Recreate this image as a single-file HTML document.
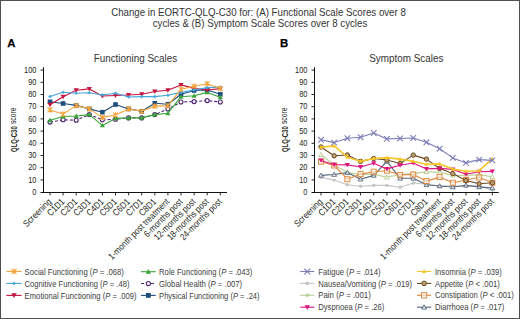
<!DOCTYPE html><html><head><meta charset="utf-8"><style>html,body{margin:0;padding:0;background:#fff}svg{display:block}</style></head><body>
<svg width="520" height="319" viewBox="0 0 520 319" font-family='"Liberation Sans", sans-serif'>
<rect x="0" y="0" width="520" height="319" fill="#fff"/>
<rect x="0.5" y="0.5" width="519" height="318" fill="none" stroke="#505050" stroke-width="1"/>
<text transform="translate(258.50,15.70) scale(0.918,1)" font-size="10.58" text-anchor="middle" fill="#333">Change in EORTC-QLQ-C30 for: (A) Functional Scale Scores over 8</text>
<text transform="translate(260.00,27.40) scale(0.918,1)" font-size="10.58" text-anchor="middle" fill="#333">cycles &amp; (B) Symptom Scale Scores over 8 cycles</text>
<text x="7.2" y="47.0" font-size="11.4" font-weight="bold" fill="#000" stroke="#000" stroke-width="0.25">A</text>
<text x="280.0" y="47.0" font-size="11.4" font-weight="bold" fill="#000" stroke="#000" stroke-width="0.25">B</text>
<text transform="translate(135.40,62.30) scale(0.925,1)" font-size="10.70" text-anchor="middle" fill="#333">Functioning Scales</text>
<text transform="translate(406.30,62.30) scale(0.925,1)" font-size="10.70" text-anchor="middle" fill="#333">Symptom Scales</text>
<text transform="translate(16.60,151.90) rotate(-90) scale(0.68,1)" font-size="8.70" text-anchor="start" fill="#231f20" font-weight="bold">QLQ-C30</text>
<text transform="translate(16.30,124.10) rotate(-90) scale(0.79,1)" font-size="8.60" text-anchor="start" fill="#231f20">score</text>
<text transform="translate(287.60,151.90) rotate(-90) scale(0.68,1)" font-size="8.70" text-anchor="start" fill="#231f20" font-weight="bold">QLQ-C30</text>
<text transform="translate(287.30,124.10) rotate(-90) scale(0.79,1)" font-size="8.60" text-anchor="start" fill="#231f20">score</text>
<path d="M43.5,67.3V193M40.5,192.5H227" stroke="#111" stroke-width="1" fill="none"/>
<line x1="40.5" y1="179.90" x2="43.5" y2="179.90" stroke="#111" stroke-width="0.9"/>
<line x1="40.5" y1="167.70" x2="43.5" y2="167.70" stroke="#111" stroke-width="0.9"/>
<line x1="40.5" y1="155.50" x2="43.5" y2="155.50" stroke="#111" stroke-width="0.9"/>
<line x1="40.5" y1="143.30" x2="43.5" y2="143.30" stroke="#111" stroke-width="0.9"/>
<line x1="40.5" y1="131.10" x2="43.5" y2="131.10" stroke="#111" stroke-width="0.9"/>
<line x1="40.5" y1="118.90" x2="43.5" y2="118.90" stroke="#111" stroke-width="0.9"/>
<line x1="40.5" y1="106.70" x2="43.5" y2="106.70" stroke="#111" stroke-width="0.9"/>
<line x1="40.5" y1="94.50" x2="43.5" y2="94.50" stroke="#111" stroke-width="0.9"/>
<line x1="40.5" y1="82.30" x2="43.5" y2="82.30" stroke="#111" stroke-width="0.9"/>
<line x1="40.5" y1="70.10" x2="43.5" y2="70.10" stroke="#111" stroke-width="0.9"/>
<text transform="translate(36.50,194.80) scale(0.85,1)" font-size="8.74" text-anchor="end" fill="#231f20">0</text>
<text transform="translate(36.50,182.60) scale(0.85,1)" font-size="8.74" text-anchor="end" fill="#231f20">10</text>
<text transform="translate(36.50,170.40) scale(0.85,1)" font-size="8.74" text-anchor="end" fill="#231f20">20</text>
<text transform="translate(36.50,158.20) scale(0.85,1)" font-size="8.74" text-anchor="end" fill="#231f20">30</text>
<text transform="translate(36.50,146.00) scale(0.85,1)" font-size="8.74" text-anchor="end" fill="#231f20">40</text>
<text transform="translate(36.50,133.80) scale(0.85,1)" font-size="8.74" text-anchor="end" fill="#231f20">50</text>
<text transform="translate(36.50,121.60) scale(0.85,1)" font-size="8.74" text-anchor="end" fill="#231f20">60</text>
<text transform="translate(36.50,109.40) scale(0.85,1)" font-size="8.74" text-anchor="end" fill="#231f20">70</text>
<text transform="translate(36.50,97.20) scale(0.85,1)" font-size="8.74" text-anchor="end" fill="#231f20">80</text>
<text transform="translate(36.50,85.00) scale(0.85,1)" font-size="8.74" text-anchor="end" fill="#231f20">90</text>
<text transform="translate(36.50,72.80) scale(0.85,1)" font-size="8.74" text-anchor="end" fill="#231f20">100</text>
<line x1="50.00" y1="192.6" x2="50.00" y2="195.4" stroke="#111" stroke-width="0.9"/>
<text transform="translate(52.00,202.30) rotate(-45) scale(0.86,1)" font-size="9.20" text-anchor="end" fill="#231f20">Screening</text>
<line x1="63.10" y1="192.6" x2="63.10" y2="195.4" stroke="#111" stroke-width="0.9"/>
<text transform="translate(65.10,202.30) rotate(-45) scale(0.86,1)" font-size="9.20" text-anchor="end" fill="#231f20">C1D1</text>
<line x1="76.20" y1="192.6" x2="76.20" y2="195.4" stroke="#111" stroke-width="0.9"/>
<text transform="translate(78.20,202.30) rotate(-45) scale(0.86,1)" font-size="9.20" text-anchor="end" fill="#231f20">C2D1</text>
<line x1="89.30" y1="192.6" x2="89.30" y2="195.4" stroke="#111" stroke-width="0.9"/>
<text transform="translate(91.30,202.30) rotate(-45) scale(0.86,1)" font-size="9.20" text-anchor="end" fill="#231f20">C3D1</text>
<line x1="102.40" y1="192.6" x2="102.40" y2="195.4" stroke="#111" stroke-width="0.9"/>
<text transform="translate(104.40,202.30) rotate(-45) scale(0.86,1)" font-size="9.20" text-anchor="end" fill="#231f20">C4D1</text>
<line x1="115.50" y1="192.6" x2="115.50" y2="195.4" stroke="#111" stroke-width="0.9"/>
<text transform="translate(117.50,202.30) rotate(-45) scale(0.86,1)" font-size="9.20" text-anchor="end" fill="#231f20">C5D1</text>
<line x1="128.60" y1="192.6" x2="128.60" y2="195.4" stroke="#111" stroke-width="0.9"/>
<text transform="translate(130.60,202.30) rotate(-45) scale(0.86,1)" font-size="9.20" text-anchor="end" fill="#231f20">C6D1</text>
<line x1="141.70" y1="192.6" x2="141.70" y2="195.4" stroke="#111" stroke-width="0.9"/>
<text transform="translate(143.70,202.30) rotate(-45) scale(0.86,1)" font-size="9.20" text-anchor="end" fill="#231f20">C7D1</text>
<line x1="154.80" y1="192.6" x2="154.80" y2="195.4" stroke="#111" stroke-width="0.9"/>
<text transform="translate(156.80,202.30) rotate(-45) scale(0.86,1)" font-size="9.20" text-anchor="end" fill="#231f20">C8D1</text>
<line x1="167.90" y1="192.6" x2="167.90" y2="195.4" stroke="#111" stroke-width="0.9"/>
<text transform="translate(169.90,202.30) rotate(-45) scale(0.86,1)" font-size="9.20" text-anchor="end" fill="#231f20">1-month post treatment</text>
<line x1="181.00" y1="192.6" x2="181.00" y2="195.4" stroke="#111" stroke-width="0.9"/>
<text transform="translate(183.00,202.30) rotate(-45) scale(0.86,1)" font-size="9.20" text-anchor="end" fill="#231f20">6-months post</text>
<line x1="194.10" y1="192.6" x2="194.10" y2="195.4" stroke="#111" stroke-width="0.9"/>
<text transform="translate(196.10,202.30) rotate(-45) scale(0.86,1)" font-size="9.20" text-anchor="end" fill="#231f20">12-months post</text>
<line x1="207.20" y1="192.6" x2="207.20" y2="195.4" stroke="#111" stroke-width="0.9"/>
<text transform="translate(209.20,202.30) rotate(-45) scale(0.86,1)" font-size="9.20" text-anchor="end" fill="#231f20">18-months post</text>
<line x1="220.30" y1="192.6" x2="220.30" y2="195.4" stroke="#111" stroke-width="0.9"/>
<text transform="translate(222.30,202.30) rotate(-45) scale(0.86,1)" font-size="9.20" text-anchor="end" fill="#231f20">24-months post</text>
<path d="M314.5,67.3V193M311.5,192.5H498.8" stroke="#111" stroke-width="1" fill="none"/>
<line x1="311.5" y1="179.90" x2="314.5" y2="179.90" stroke="#111" stroke-width="0.9"/>
<line x1="311.5" y1="167.70" x2="314.5" y2="167.70" stroke="#111" stroke-width="0.9"/>
<line x1="311.5" y1="155.50" x2="314.5" y2="155.50" stroke="#111" stroke-width="0.9"/>
<line x1="311.5" y1="143.30" x2="314.5" y2="143.30" stroke="#111" stroke-width="0.9"/>
<line x1="311.5" y1="131.10" x2="314.5" y2="131.10" stroke="#111" stroke-width="0.9"/>
<line x1="311.5" y1="118.90" x2="314.5" y2="118.90" stroke="#111" stroke-width="0.9"/>
<line x1="311.5" y1="106.70" x2="314.5" y2="106.70" stroke="#111" stroke-width="0.9"/>
<line x1="311.5" y1="94.50" x2="314.5" y2="94.50" stroke="#111" stroke-width="0.9"/>
<line x1="311.5" y1="82.30" x2="314.5" y2="82.30" stroke="#111" stroke-width="0.9"/>
<line x1="311.5" y1="70.10" x2="314.5" y2="70.10" stroke="#111" stroke-width="0.9"/>
<text transform="translate(307.50,194.80) scale(0.85,1)" font-size="8.74" text-anchor="end" fill="#231f20">0</text>
<text transform="translate(307.50,182.60) scale(0.85,1)" font-size="8.74" text-anchor="end" fill="#231f20">10</text>
<text transform="translate(307.50,170.40) scale(0.85,1)" font-size="8.74" text-anchor="end" fill="#231f20">20</text>
<text transform="translate(307.50,158.20) scale(0.85,1)" font-size="8.74" text-anchor="end" fill="#231f20">30</text>
<text transform="translate(307.50,146.00) scale(0.85,1)" font-size="8.74" text-anchor="end" fill="#231f20">40</text>
<text transform="translate(307.50,133.80) scale(0.85,1)" font-size="8.74" text-anchor="end" fill="#231f20">50</text>
<text transform="translate(307.50,121.60) scale(0.85,1)" font-size="8.74" text-anchor="end" fill="#231f20">60</text>
<text transform="translate(307.50,109.40) scale(0.85,1)" font-size="8.74" text-anchor="end" fill="#231f20">70</text>
<text transform="translate(307.50,97.20) scale(0.85,1)" font-size="8.74" text-anchor="end" fill="#231f20">80</text>
<text transform="translate(307.50,85.00) scale(0.85,1)" font-size="8.74" text-anchor="end" fill="#231f20">90</text>
<text transform="translate(307.50,72.80) scale(0.85,1)" font-size="8.74" text-anchor="end" fill="#231f20">100</text>
<line x1="321.00" y1="192.6" x2="321.00" y2="195.4" stroke="#111" stroke-width="0.9"/>
<text transform="translate(323.00,202.30) rotate(-45) scale(0.86,1)" font-size="9.20" text-anchor="end" fill="#231f20">Screening</text>
<line x1="334.18" y1="192.6" x2="334.18" y2="195.4" stroke="#111" stroke-width="0.9"/>
<text transform="translate(336.18,202.30) rotate(-45) scale(0.86,1)" font-size="9.20" text-anchor="end" fill="#231f20">C1D1</text>
<line x1="347.36" y1="192.6" x2="347.36" y2="195.4" stroke="#111" stroke-width="0.9"/>
<text transform="translate(349.36,202.30) rotate(-45) scale(0.86,1)" font-size="9.20" text-anchor="end" fill="#231f20">C2D1</text>
<line x1="360.54" y1="192.6" x2="360.54" y2="195.4" stroke="#111" stroke-width="0.9"/>
<text transform="translate(362.54,202.30) rotate(-45) scale(0.86,1)" font-size="9.20" text-anchor="end" fill="#231f20">C3D1</text>
<line x1="373.72" y1="192.6" x2="373.72" y2="195.4" stroke="#111" stroke-width="0.9"/>
<text transform="translate(375.72,202.30) rotate(-45) scale(0.86,1)" font-size="9.20" text-anchor="end" fill="#231f20">C4D1</text>
<line x1="386.90" y1="192.6" x2="386.90" y2="195.4" stroke="#111" stroke-width="0.9"/>
<text transform="translate(388.90,202.30) rotate(-45) scale(0.86,1)" font-size="9.20" text-anchor="end" fill="#231f20">C5D1</text>
<line x1="400.08" y1="192.6" x2="400.08" y2="195.4" stroke="#111" stroke-width="0.9"/>
<text transform="translate(402.08,202.30) rotate(-45) scale(0.86,1)" font-size="9.20" text-anchor="end" fill="#231f20">C6D1</text>
<line x1="413.26" y1="192.6" x2="413.26" y2="195.4" stroke="#111" stroke-width="0.9"/>
<text transform="translate(415.26,202.30) rotate(-45) scale(0.86,1)" font-size="9.20" text-anchor="end" fill="#231f20">C7D1</text>
<line x1="426.44" y1="192.6" x2="426.44" y2="195.4" stroke="#111" stroke-width="0.9"/>
<text transform="translate(428.44,202.30) rotate(-45) scale(0.86,1)" font-size="9.20" text-anchor="end" fill="#231f20">C8D1</text>
<line x1="439.62" y1="192.6" x2="439.62" y2="195.4" stroke="#111" stroke-width="0.9"/>
<text transform="translate(441.62,202.30) rotate(-45) scale(0.86,1)" font-size="9.20" text-anchor="end" fill="#231f20">1-month post treatment</text>
<line x1="452.80" y1="192.6" x2="452.80" y2="195.4" stroke="#111" stroke-width="0.9"/>
<text transform="translate(454.80,202.30) rotate(-45) scale(0.86,1)" font-size="9.20" text-anchor="end" fill="#231f20">6-months post</text>
<line x1="465.98" y1="192.6" x2="465.98" y2="195.4" stroke="#111" stroke-width="0.9"/>
<text transform="translate(467.98,202.30) rotate(-45) scale(0.86,1)" font-size="9.20" text-anchor="end" fill="#231f20">12-months post</text>
<line x1="479.16" y1="192.6" x2="479.16" y2="195.4" stroke="#111" stroke-width="0.9"/>
<text transform="translate(481.16,202.30) rotate(-45) scale(0.86,1)" font-size="9.20" text-anchor="end" fill="#231f20">18-months post</text>
<line x1="492.34" y1="192.6" x2="492.34" y2="195.4" stroke="#111" stroke-width="0.9"/>
<text transform="translate(494.34,202.30) rotate(-45) scale(0.86,1)" font-size="9.20" text-anchor="end" fill="#231f20">24-months post</text>
<path d="M50.00,122.10L63.10,119.80L76.20,120.20L89.30,114.60L102.40,119.80L115.50,119.30L128.60,117.90L141.70,117.90L154.80,114.60L167.90,109.00L181.00,102.00L194.10,101.60L207.20,100.60L220.30,102.00" fill="none" stroke="#4e2474" stroke-width="1.1" stroke-linejoin="round" stroke-dasharray="3,2"/>
<circle cx="50.00" cy="122.10" r="2.00" fill="#fff" stroke="#4e2474" stroke-width="1.1"/>
<circle cx="63.10" cy="119.80" r="2.00" fill="#fff" stroke="#4e2474" stroke-width="1.1"/>
<circle cx="76.20" cy="120.20" r="2.00" fill="#fff" stroke="#4e2474" stroke-width="1.1"/>
<circle cx="89.30" cy="114.60" r="2.00" fill="#fff" stroke="#4e2474" stroke-width="1.1"/>
<circle cx="102.40" cy="119.80" r="2.00" fill="#fff" stroke="#4e2474" stroke-width="1.1"/>
<circle cx="115.50" cy="119.30" r="2.00" fill="#fff" stroke="#4e2474" stroke-width="1.1"/>
<circle cx="128.60" cy="117.90" r="2.00" fill="#fff" stroke="#4e2474" stroke-width="1.1"/>
<circle cx="141.70" cy="117.90" r="2.00" fill="#fff" stroke="#4e2474" stroke-width="1.1"/>
<circle cx="154.80" cy="114.60" r="2.00" fill="#fff" stroke="#4e2474" stroke-width="1.1"/>
<circle cx="167.90" cy="109.00" r="2.00" fill="#fff" stroke="#4e2474" stroke-width="1.1"/>
<circle cx="181.00" cy="102.00" r="2.00" fill="#fff" stroke="#4e2474" stroke-width="1.1"/>
<circle cx="194.10" cy="101.60" r="2.00" fill="#fff" stroke="#4e2474" stroke-width="1.1"/>
<circle cx="207.20" cy="100.60" r="2.00" fill="#fff" stroke="#4e2474" stroke-width="1.1"/>
<circle cx="220.30" cy="102.00" r="2.00" fill="#fff" stroke="#4e2474" stroke-width="1.1"/>
<path d="M50.00,101.80L63.10,103.50L76.20,105.40L89.30,108.90L102.40,112.20L115.50,104.50L128.60,108.90L141.70,111.30L154.80,103.30L167.90,104.20L181.00,94.30L194.10,90.50L207.20,90.00L220.30,94.30" fill="none" stroke="#1d4e7e" stroke-width="1.1" stroke-linejoin="round"/>
<rect x="47.70" y="99.50" width="4.60" height="4.60" fill="#1d4e7e"/>
<rect x="60.80" y="101.20" width="4.60" height="4.60" fill="#1d4e7e"/>
<rect x="73.90" y="103.10" width="4.60" height="4.60" fill="#1d4e7e"/>
<rect x="87.00" y="106.60" width="4.60" height="4.60" fill="#1d4e7e"/>
<rect x="100.10" y="109.90" width="4.60" height="4.60" fill="#1d4e7e"/>
<rect x="113.20" y="102.20" width="4.60" height="4.60" fill="#1d4e7e"/>
<rect x="126.30" y="106.60" width="4.60" height="4.60" fill="#1d4e7e"/>
<rect x="139.40" y="109.00" width="4.60" height="4.60" fill="#1d4e7e"/>
<rect x="152.50" y="101.00" width="4.60" height="4.60" fill="#1d4e7e"/>
<rect x="165.60" y="101.90" width="4.60" height="4.60" fill="#1d4e7e"/>
<rect x="178.70" y="92.00" width="4.60" height="4.60" fill="#1d4e7e"/>
<rect x="191.80" y="88.20" width="4.60" height="4.60" fill="#1d4e7e"/>
<rect x="204.90" y="87.70" width="4.60" height="4.60" fill="#1d4e7e"/>
<rect x="218.00" y="92.00" width="4.60" height="4.60" fill="#1d4e7e"/>
<path d="M50.00,120.20L63.10,116.50L76.20,116.00L89.30,114.60L102.40,125.40L115.50,118.40L128.60,117.90L141.70,117.90L154.80,114.60L167.90,113.20L181.00,96.80L194.10,95.80L207.20,92.40L220.30,97.20" fill="none" stroke="#3aa43a" stroke-width="1.1" stroke-linejoin="round"/>
<path d="M47.40,122.15L52.60,122.15L50.00,117.73Z" fill="#3aa43a"/>
<path d="M60.50,118.45L65.70,118.45L63.10,114.03Z" fill="#3aa43a"/>
<path d="M73.60,117.95L78.80,117.95L76.20,113.53Z" fill="#3aa43a"/>
<path d="M86.70,116.55L91.90,116.55L89.30,112.13Z" fill="#3aa43a"/>
<path d="M99.80,127.35L105.00,127.35L102.40,122.93Z" fill="#3aa43a"/>
<path d="M112.90,120.35L118.10,120.35L115.50,115.93Z" fill="#3aa43a"/>
<path d="M126.00,119.85L131.20,119.85L128.60,115.43Z" fill="#3aa43a"/>
<path d="M139.10,119.85L144.30,119.85L141.70,115.43Z" fill="#3aa43a"/>
<path d="M152.20,116.55L157.40,116.55L154.80,112.13Z" fill="#3aa43a"/>
<path d="M165.30,115.15L170.50,115.15L167.90,110.73Z" fill="#3aa43a"/>
<path d="M178.40,98.75L183.60,98.75L181.00,94.33Z" fill="#3aa43a"/>
<path d="M191.50,97.75L196.70,97.75L194.10,93.33Z" fill="#3aa43a"/>
<path d="M204.60,94.35L209.80,94.35L207.20,89.93Z" fill="#3aa43a"/>
<path d="M217.70,99.15L222.90,99.15L220.30,94.73Z" fill="#3aa43a"/>
<path d="M50.00,104.70L63.10,96.80L76.20,90.20L89.30,88.90L102.40,96.00L115.50,95.50L128.60,95.00L141.70,94.30L154.80,91.50L167.90,90.20L181.00,84.90L194.10,88.40L207.20,90.00L220.30,88.60" fill="none" stroke="#c4153f" stroke-width="1.1" stroke-linejoin="round"/>
<path d="M47.40,102.75L52.60,102.75L50.00,107.17Z" fill="#c4153f"/>
<path d="M60.50,94.85L65.70,94.85L63.10,99.27Z" fill="#c4153f"/>
<path d="M73.60,88.25L78.80,88.25L76.20,92.67Z" fill="#c4153f"/>
<path d="M86.70,86.95L91.90,86.95L89.30,91.37Z" fill="#c4153f"/>
<path d="M99.80,94.05L105.00,94.05L102.40,98.47Z" fill="#c4153f"/>
<path d="M112.90,93.55L118.10,93.55L115.50,97.97Z" fill="#c4153f"/>
<path d="M126.00,93.05L131.20,93.05L128.60,97.47Z" fill="#c4153f"/>
<path d="M139.10,92.35L144.30,92.35L141.70,96.77Z" fill="#c4153f"/>
<path d="M152.20,89.55L157.40,89.55L154.80,93.97Z" fill="#c4153f"/>
<path d="M165.30,88.25L170.50,88.25L167.90,92.67Z" fill="#c4153f"/>
<path d="M178.40,82.95L183.60,82.95L181.00,87.37Z" fill="#c4153f"/>
<path d="M191.50,86.45L196.70,86.45L194.10,90.87Z" fill="#c4153f"/>
<path d="M204.60,88.05L209.80,88.05L207.20,92.47Z" fill="#c4153f"/>
<path d="M217.70,86.65L222.90,86.65L220.30,91.07Z" fill="#c4153f"/>
<path d="M50.00,96.50L63.10,92.20L76.20,93.20L89.30,92.70L102.40,95.00L115.50,93.20L128.60,97.00L141.70,96.60L154.80,96.60L167.90,95.20L181.00,92.40L194.10,90.00L207.20,87.60L220.30,87.10" fill="none" stroke="#45a7dc" stroke-width="1.1" stroke-linejoin="round"/>
<path d="M50.00,94.70L51.80,96.50L50.00,98.30L48.20,96.50Z" fill="#45a7dc"/>
<path d="M63.10,90.40L64.90,92.20L63.10,94.00L61.30,92.20Z" fill="#45a7dc"/>
<path d="M76.20,91.40L78.00,93.20L76.20,95.00L74.40,93.20Z" fill="#45a7dc"/>
<path d="M89.30,90.90L91.10,92.70L89.30,94.50L87.50,92.70Z" fill="#45a7dc"/>
<path d="M102.40,93.20L104.20,95.00L102.40,96.80L100.60,95.00Z" fill="#45a7dc"/>
<path d="M115.50,91.40L117.30,93.20L115.50,95.00L113.70,93.20Z" fill="#45a7dc"/>
<path d="M128.60,95.20L130.40,97.00L128.60,98.80L126.80,97.00Z" fill="#45a7dc"/>
<path d="M141.70,94.80L143.50,96.60L141.70,98.40L139.90,96.60Z" fill="#45a7dc"/>
<path d="M154.80,94.80L156.60,96.60L154.80,98.40L153.00,96.60Z" fill="#45a7dc"/>
<path d="M167.90,93.40L169.70,95.20L167.90,97.00L166.10,95.20Z" fill="#45a7dc"/>
<path d="M181.00,90.60L182.80,92.40L181.00,94.20L179.20,92.40Z" fill="#45a7dc"/>
<path d="M194.10,88.20L195.90,90.00L194.10,91.80L192.30,90.00Z" fill="#45a7dc"/>
<path d="M207.20,85.80L209.00,87.60L207.20,89.40L205.40,87.60Z" fill="#45a7dc"/>
<path d="M220.30,85.30L222.10,87.10L220.30,88.90L218.50,87.10Z" fill="#45a7dc"/>
<path d="M50.00,109.90L63.10,114.10L76.20,105.60L89.30,108.90L102.40,117.40L115.50,115.00L128.60,108.90L141.70,111.30L154.80,106.10L167.90,105.60L181.00,89.30L194.10,86.20L207.20,83.80L220.30,88.60" fill="none" stroke="#f4a43a" stroke-width="1.1" stroke-linejoin="round"/>
<path d="M47.60,107.50L52.40,112.30M47.60,112.30L52.40,107.50M50.00,107.26L50.00,112.54" stroke="#f4a43a" stroke-width="1.1" fill="none"/>
<path d="M60.70,111.70L65.50,116.50M60.70,116.50L65.50,111.70M63.10,111.46L63.10,116.74" stroke="#f4a43a" stroke-width="1.1" fill="none"/>
<path d="M73.80,103.20L78.60,108.00M73.80,108.00L78.60,103.20M76.20,102.96L76.20,108.24" stroke="#f4a43a" stroke-width="1.1" fill="none"/>
<path d="M86.90,106.50L91.70,111.30M86.90,111.30L91.70,106.50M89.30,106.26L89.30,111.54" stroke="#f4a43a" stroke-width="1.1" fill="none"/>
<path d="M100.00,115.00L104.80,119.80M100.00,119.80L104.80,115.00M102.40,114.76L102.40,120.04" stroke="#f4a43a" stroke-width="1.1" fill="none"/>
<path d="M113.10,112.60L117.90,117.40M113.10,117.40L117.90,112.60M115.50,112.36L115.50,117.64" stroke="#f4a43a" stroke-width="1.1" fill="none"/>
<path d="M126.20,106.50L131.00,111.30M126.20,111.30L131.00,106.50M128.60,106.26L128.60,111.54" stroke="#f4a43a" stroke-width="1.1" fill="none"/>
<path d="M139.30,108.90L144.10,113.70M139.30,113.70L144.10,108.90M141.70,108.66L141.70,113.94" stroke="#f4a43a" stroke-width="1.1" fill="none"/>
<path d="M152.40,103.70L157.20,108.50M152.40,108.50L157.20,103.70M154.80,103.46L154.80,108.74" stroke="#f4a43a" stroke-width="1.1" fill="none"/>
<path d="M165.50,103.20L170.30,108.00M165.50,108.00L170.30,103.20M167.90,102.96L167.90,108.24" stroke="#f4a43a" stroke-width="1.1" fill="none"/>
<path d="M178.60,86.90L183.40,91.70M178.60,91.70L183.40,86.90M181.00,86.66L181.00,91.94" stroke="#f4a43a" stroke-width="1.1" fill="none"/>
<path d="M191.70,83.80L196.50,88.60M191.70,88.60L196.50,83.80M194.10,83.56L194.10,88.84" stroke="#f4a43a" stroke-width="1.1" fill="none"/>
<path d="M204.80,81.40L209.60,86.20M204.80,86.20L209.60,81.40M207.20,81.16L207.20,86.44" stroke="#f4a43a" stroke-width="1.1" fill="none"/>
<path d="M217.90,86.20L222.70,91.00M217.90,91.00L222.70,86.20M220.30,85.96L220.30,91.24" stroke="#f4a43a" stroke-width="1.1" fill="none"/>
<path d="M321.00,177.30L334.18,180.10L347.36,184.80L360.54,186.20L373.72,185.40L386.90,185.40L400.08,187.30L413.26,183.00L426.44,184.30L439.62,186.00L452.80,186.00L465.98,186.60L479.16,186.00L492.34,190.00" fill="none" stroke="#c4c4c4" stroke-width="1.1" stroke-linejoin="round"/>
<circle cx="321.00" cy="177.30" r="1.70" fill="#c4c4c4"/>
<circle cx="334.18" cy="180.10" r="1.70" fill="#c4c4c4"/>
<circle cx="347.36" cy="184.80" r="1.70" fill="#c4c4c4"/>
<circle cx="360.54" cy="186.20" r="1.70" fill="#c4c4c4"/>
<circle cx="373.72" cy="185.40" r="1.70" fill="#c4c4c4"/>
<circle cx="386.90" cy="185.40" r="1.70" fill="#c4c4c4"/>
<circle cx="400.08" cy="187.30" r="1.70" fill="#c4c4c4"/>
<circle cx="413.26" cy="183.00" r="1.70" fill="#c4c4c4"/>
<circle cx="426.44" cy="184.30" r="1.70" fill="#c4c4c4"/>
<circle cx="439.62" cy="186.00" r="1.70" fill="#c4c4c4"/>
<circle cx="452.80" cy="186.00" r="1.70" fill="#c4c4c4"/>
<circle cx="465.98" cy="186.60" r="1.70" fill="#c4c4c4"/>
<circle cx="479.16" cy="186.00" r="1.70" fill="#c4c4c4"/>
<circle cx="492.34" cy="190.00" r="1.70" fill="#c4c4c4"/>
<path d="M321.00,154.70L334.18,165.00L347.36,172.40L360.54,174.60L373.72,174.10L386.90,177.30L400.08,174.50L413.26,173.60L426.44,171.70L439.62,172.40L452.80,175.20L465.98,175.50L479.16,174.60L492.34,176.80" fill="none" stroke="#b9cf92" stroke-width="1.1" stroke-linejoin="round"/>
<path d="M318.60,156.50L323.40,156.50L321.00,152.42Z" fill="#fff" fill-opacity="0.6" stroke="#b9cf92" stroke-width="0.9"/>
<path d="M331.78,166.80L336.58,166.80L334.18,162.72Z" fill="#fff" fill-opacity="0.6" stroke="#b9cf92" stroke-width="0.9"/>
<path d="M344.96,174.20L349.76,174.20L347.36,170.12Z" fill="#fff" fill-opacity="0.6" stroke="#b9cf92" stroke-width="0.9"/>
<path d="M358.14,176.40L362.94,176.40L360.54,172.32Z" fill="#fff" fill-opacity="0.6" stroke="#b9cf92" stroke-width="0.9"/>
<path d="M371.32,175.90L376.12,175.90L373.72,171.82Z" fill="#fff" fill-opacity="0.6" stroke="#b9cf92" stroke-width="0.9"/>
<path d="M384.50,179.10L389.30,179.10L386.90,175.02Z" fill="#fff" fill-opacity="0.6" stroke="#b9cf92" stroke-width="0.9"/>
<path d="M397.68,176.30L402.48,176.30L400.08,172.22Z" fill="#fff" fill-opacity="0.6" stroke="#b9cf92" stroke-width="0.9"/>
<path d="M410.86,175.40L415.66,175.40L413.26,171.32Z" fill="#fff" fill-opacity="0.6" stroke="#b9cf92" stroke-width="0.9"/>
<path d="M424.04,173.50L428.84,173.50L426.44,169.42Z" fill="#fff" fill-opacity="0.6" stroke="#b9cf92" stroke-width="0.9"/>
<path d="M437.22,174.20L442.02,174.20L439.62,170.12Z" fill="#fff" fill-opacity="0.6" stroke="#b9cf92" stroke-width="0.9"/>
<path d="M450.40,177.00L455.20,177.00L452.80,172.92Z" fill="#fff" fill-opacity="0.6" stroke="#b9cf92" stroke-width="0.9"/>
<path d="M463.58,177.30L468.38,177.30L465.98,173.22Z" fill="#fff" fill-opacity="0.6" stroke="#b9cf92" stroke-width="0.9"/>
<path d="M476.76,176.40L481.56,176.40L479.16,172.32Z" fill="#fff" fill-opacity="0.6" stroke="#b9cf92" stroke-width="0.9"/>
<path d="M489.94,178.60L494.74,178.60L492.34,174.52Z" fill="#fff" fill-opacity="0.6" stroke="#b9cf92" stroke-width="0.9"/>
<path d="M321.00,175.40L334.18,174.50L347.36,172.60L360.54,179.20L373.72,175.40L386.90,161.30L400.08,178.30L413.26,178.30L426.44,184.80L439.62,186.00L452.80,187.00L465.98,185.20L479.16,186.90L492.34,188.00" fill="none" stroke="#55657a" stroke-width="1.1" stroke-linejoin="round"/>
<path d="M318.60,177.20L323.40,177.20L321.00,173.12Z" fill="#fff" fill-opacity="0.6" stroke="#55657a" stroke-width="0.9"/>
<path d="M331.78,176.30L336.58,176.30L334.18,172.22Z" fill="#fff" fill-opacity="0.6" stroke="#55657a" stroke-width="0.9"/>
<path d="M344.96,174.40L349.76,174.40L347.36,170.32Z" fill="#fff" fill-opacity="0.6" stroke="#55657a" stroke-width="0.9"/>
<path d="M358.14,181.00L362.94,181.00L360.54,176.92Z" fill="#fff" fill-opacity="0.6" stroke="#55657a" stroke-width="0.9"/>
<path d="M371.32,177.20L376.12,177.20L373.72,173.12Z" fill="#fff" fill-opacity="0.6" stroke="#55657a" stroke-width="0.9"/>
<path d="M384.50,163.10L389.30,163.10L386.90,159.02Z" fill="#fff" fill-opacity="0.6" stroke="#55657a" stroke-width="0.9"/>
<path d="M397.68,180.10L402.48,180.10L400.08,176.02Z" fill="#fff" fill-opacity="0.6" stroke="#55657a" stroke-width="0.9"/>
<path d="M410.86,180.10L415.66,180.10L413.26,176.02Z" fill="#fff" fill-opacity="0.6" stroke="#55657a" stroke-width="0.9"/>
<path d="M424.04,186.60L428.84,186.60L426.44,182.52Z" fill="#fff" fill-opacity="0.6" stroke="#55657a" stroke-width="0.9"/>
<path d="M437.22,187.80L442.02,187.80L439.62,183.72Z" fill="#fff" fill-opacity="0.6" stroke="#55657a" stroke-width="0.9"/>
<path d="M450.40,188.80L455.20,188.80L452.80,184.72Z" fill="#fff" fill-opacity="0.6" stroke="#55657a" stroke-width="0.9"/>
<path d="M463.58,187.00L468.38,187.00L465.98,182.92Z" fill="#fff" fill-opacity="0.6" stroke="#55657a" stroke-width="0.9"/>
<path d="M476.76,188.70L481.56,188.70L479.16,184.62Z" fill="#fff" fill-opacity="0.6" stroke="#55657a" stroke-width="0.9"/>
<path d="M489.94,189.80L494.74,189.80L492.34,185.72Z" fill="#fff" fill-opacity="0.6" stroke="#55657a" stroke-width="0.9"/>
<path d="M321.00,161.70L334.18,165.50L347.36,179.20L360.54,174.10L373.72,171.70L386.90,170.70L400.08,174.90L413.26,174.50L426.44,181.10L439.62,177.10L452.80,182.80L465.98,180.00L479.16,177.50L492.34,182.70" fill="none" stroke="#e0893f" stroke-width="1.1" stroke-linejoin="round"/>
<rect x="318.50" y="159.20" width="5.00" height="5.00" fill="#fff" fill-opacity="0.5" stroke="#e0893f" stroke-width="1"/>
<rect x="331.68" y="163.00" width="5.00" height="5.00" fill="#fff" fill-opacity="0.5" stroke="#e0893f" stroke-width="1"/>
<rect x="344.86" y="176.70" width="5.00" height="5.00" fill="#fff" fill-opacity="0.5" stroke="#e0893f" stroke-width="1"/>
<rect x="358.04" y="171.60" width="5.00" height="5.00" fill="#fff" fill-opacity="0.5" stroke="#e0893f" stroke-width="1"/>
<rect x="371.22" y="169.20" width="5.00" height="5.00" fill="#fff" fill-opacity="0.5" stroke="#e0893f" stroke-width="1"/>
<rect x="384.40" y="168.20" width="5.00" height="5.00" fill="#fff" fill-opacity="0.5" stroke="#e0893f" stroke-width="1"/>
<rect x="397.58" y="172.40" width="5.00" height="5.00" fill="#fff" fill-opacity="0.5" stroke="#e0893f" stroke-width="1"/>
<rect x="410.76" y="172.00" width="5.00" height="5.00" fill="#fff" fill-opacity="0.5" stroke="#e0893f" stroke-width="1"/>
<rect x="423.94" y="178.60" width="5.00" height="5.00" fill="#fff" fill-opacity="0.5" stroke="#e0893f" stroke-width="1"/>
<rect x="437.12" y="174.60" width="5.00" height="5.00" fill="#fff" fill-opacity="0.5" stroke="#e0893f" stroke-width="1"/>
<rect x="450.30" y="180.30" width="5.00" height="5.00" fill="#fff" fill-opacity="0.5" stroke="#e0893f" stroke-width="1"/>
<rect x="463.48" y="177.50" width="5.00" height="5.00" fill="#fff" fill-opacity="0.5" stroke="#e0893f" stroke-width="1"/>
<rect x="476.66" y="175.00" width="5.00" height="5.00" fill="#fff" fill-opacity="0.5" stroke="#e0893f" stroke-width="1"/>
<rect x="489.84" y="180.20" width="5.00" height="5.00" fill="#fff" fill-opacity="0.5" stroke="#e0893f" stroke-width="1"/>
<path d="M321.00,147.00L334.18,155.80L347.36,155.00L360.54,161.40L373.72,158.50L386.90,160.00L400.08,163.50L413.26,155.10L426.44,159.10L439.62,168.50L452.80,173.60L465.98,180.50L479.16,183.80L492.34,182.80" fill="none" stroke="#6b4a22" stroke-width="1.1" stroke-linejoin="round"/>
<circle cx="321.00" cy="147.00" r="2.20" fill="#b8a070" stroke="#6b4a22" stroke-width="1"/>
<circle cx="334.18" cy="155.80" r="2.20" fill="#b8a070" stroke="#6b4a22" stroke-width="1"/>
<circle cx="347.36" cy="155.00" r="2.20" fill="#b8a070" stroke="#6b4a22" stroke-width="1"/>
<circle cx="360.54" cy="161.40" r="2.20" fill="#b8a070" stroke="#6b4a22" stroke-width="1"/>
<circle cx="373.72" cy="158.50" r="2.20" fill="#b8a070" stroke="#6b4a22" stroke-width="1"/>
<circle cx="386.90" cy="160.00" r="2.20" fill="#b8a070" stroke="#6b4a22" stroke-width="1"/>
<circle cx="400.08" cy="163.50" r="2.20" fill="#b8a070" stroke="#6b4a22" stroke-width="1"/>
<circle cx="413.26" cy="155.10" r="2.20" fill="#b8a070" stroke="#6b4a22" stroke-width="1"/>
<circle cx="426.44" cy="159.10" r="2.20" fill="#b8a070" stroke="#6b4a22" stroke-width="1"/>
<circle cx="439.62" cy="168.50" r="2.20" fill="#b8a070" stroke="#6b4a22" stroke-width="1"/>
<circle cx="452.80" cy="173.60" r="2.20" fill="#b8a070" stroke="#6b4a22" stroke-width="1"/>
<circle cx="465.98" cy="180.50" r="2.20" fill="#b8a070" stroke="#6b4a22" stroke-width="1"/>
<circle cx="479.16" cy="183.80" r="2.20" fill="#b8a070" stroke="#6b4a22" stroke-width="1"/>
<circle cx="492.34" cy="182.80" r="2.20" fill="#b8a070" stroke="#6b4a22" stroke-width="1"/>
<path d="M321.00,160.40L334.18,164.70L347.36,164.90L360.54,167.00L373.72,163.20L386.90,168.90L400.08,165.20L413.26,163.00L426.44,168.90L439.62,168.40L452.80,169.40L465.98,174.30L479.16,171.80L492.34,171.40" fill="none" stroke="#e0147c" stroke-width="1.1" stroke-linejoin="round"/>
<path d="M318.40,158.45L323.60,158.45L321.00,162.87Z" fill="#e0147c"/>
<path d="M331.58,162.75L336.78,162.75L334.18,167.17Z" fill="#e0147c"/>
<path d="M344.76,162.95L349.96,162.95L347.36,167.37Z" fill="#e0147c"/>
<path d="M357.94,165.05L363.14,165.05L360.54,169.47Z" fill="#e0147c"/>
<path d="M371.12,161.25L376.32,161.25L373.72,165.67Z" fill="#e0147c"/>
<path d="M384.30,166.95L389.50,166.95L386.90,171.37Z" fill="#e0147c"/>
<path d="M397.48,163.25L402.68,163.25L400.08,167.67Z" fill="#e0147c"/>
<path d="M410.66,161.05L415.86,161.05L413.26,165.47Z" fill="#e0147c"/>
<path d="M423.84,166.95L429.04,166.95L426.44,171.37Z" fill="#e0147c"/>
<path d="M437.02,166.45L442.22,166.45L439.62,170.87Z" fill="#e0147c"/>
<path d="M450.20,167.45L455.40,167.45L452.80,171.87Z" fill="#e0147c"/>
<path d="M463.38,172.35L468.58,172.35L465.98,176.77Z" fill="#e0147c"/>
<path d="M476.56,169.85L481.76,169.85L479.16,174.27Z" fill="#e0147c"/>
<path d="M489.74,169.45L494.94,169.45L492.34,173.87Z" fill="#e0147c"/>
<path d="M321.00,147.20L334.18,145.90L347.36,157.20L360.54,161.30L373.72,158.50L386.90,157.60L400.08,159.10L413.26,161.30L426.44,164.20L439.62,163.90L452.80,169.10L465.98,171.20L479.16,170.70L492.34,158.70" fill="none" stroke="#f6c52a" stroke-width="1.6" stroke-linejoin="round"/>
<path d="M321.00,145.00L323.20,148.74L318.80,148.74Z" fill="#f6c52a"/>
<path d="M334.18,143.70L336.38,147.44L331.98,147.44Z" fill="#f6c52a"/>
<path d="M347.36,155.00L349.56,158.74L345.16,158.74Z" fill="#f6c52a"/>
<path d="M360.54,159.10L362.74,162.84L358.34,162.84Z" fill="#f6c52a"/>
<path d="M373.72,156.30L375.92,160.04L371.52,160.04Z" fill="#f6c52a"/>
<path d="M386.90,155.40L389.10,159.14L384.70,159.14Z" fill="#f6c52a"/>
<path d="M400.08,156.90L402.28,160.64L397.88,160.64Z" fill="#f6c52a"/>
<path d="M413.26,159.10L415.46,162.84L411.06,162.84Z" fill="#f6c52a"/>
<path d="M426.44,162.00L428.64,165.74L424.24,165.74Z" fill="#f6c52a"/>
<path d="M439.62,161.70L441.82,165.44L437.42,165.44Z" fill="#f6c52a"/>
<path d="M452.80,166.90L455.00,170.64L450.60,170.64Z" fill="#f6c52a"/>
<path d="M465.98,169.00L468.18,172.74L463.78,172.74Z" fill="#f6c52a"/>
<path d="M479.16,168.50L481.36,172.24L476.96,172.24Z" fill="#f6c52a"/>
<path d="M492.34,156.50L494.54,160.24L490.14,160.24Z" fill="#f6c52a"/>
<path d="M321.00,139.80L334.18,142.60L347.36,138.20L360.54,137.20L373.72,133.00L386.90,138.90L400.08,138.50L413.26,138.00L426.44,142.30L439.62,148.70L452.80,157.90L465.98,162.90L479.16,159.60L492.34,160.40" fill="none" stroke="#7c7eb8" stroke-width="1.1" stroke-linejoin="round"/>
<path d="M318.20,137.00L323.80,142.60M318.20,142.60L323.80,137.00" stroke="#7c7eb8" stroke-width="1.1" fill="none"/>
<path d="M331.38,139.80L336.98,145.40M331.38,145.40L336.98,139.80" stroke="#7c7eb8" stroke-width="1.1" fill="none"/>
<path d="M344.56,135.40L350.16,141.00M344.56,141.00L350.16,135.40" stroke="#7c7eb8" stroke-width="1.1" fill="none"/>
<path d="M357.74,134.40L363.34,140.00M357.74,140.00L363.34,134.40" stroke="#7c7eb8" stroke-width="1.1" fill="none"/>
<path d="M370.92,130.20L376.52,135.80M370.92,135.80L376.52,130.20" stroke="#7c7eb8" stroke-width="1.1" fill="none"/>
<path d="M384.10,136.10L389.70,141.70M384.10,141.70L389.70,136.10" stroke="#7c7eb8" stroke-width="1.1" fill="none"/>
<path d="M397.28,135.70L402.88,141.30M397.28,141.30L402.88,135.70" stroke="#7c7eb8" stroke-width="1.1" fill="none"/>
<path d="M410.46,135.20L416.06,140.80M410.46,140.80L416.06,135.20" stroke="#7c7eb8" stroke-width="1.1" fill="none"/>
<path d="M423.64,139.50L429.24,145.10M423.64,145.10L429.24,139.50" stroke="#7c7eb8" stroke-width="1.1" fill="none"/>
<path d="M436.82,145.90L442.42,151.50M436.82,151.50L442.42,145.90" stroke="#7c7eb8" stroke-width="1.1" fill="none"/>
<path d="M450.00,155.10L455.60,160.70M450.00,160.70L455.60,155.10" stroke="#7c7eb8" stroke-width="1.1" fill="none"/>
<path d="M463.18,160.10L468.78,165.70M463.18,165.70L468.78,160.10" stroke="#7c7eb8" stroke-width="1.1" fill="none"/>
<path d="M476.36,156.80L481.96,162.40M476.36,162.40L481.96,156.80" stroke="#7c7eb8" stroke-width="1.1" fill="none"/>
<path d="M489.54,157.60L495.14,163.20M489.54,163.20L495.14,157.60" stroke="#7c7eb8" stroke-width="1.1" fill="none"/>
<line x1="6.4" y1="271.4" x2="21.6" y2="271.4" stroke="#f4a43a" stroke-width="1.1"/>
<path d="M11.48,268.88L16.52,273.92M11.48,273.92L16.52,268.88M14.00,268.63L14.00,274.17" stroke="#f4a43a" stroke-width="1.1" fill="none"/>
<text transform="translate(24.60,274.50) scale(0.8402,1)" font-size="9.20" text-anchor="start" fill="#404040">Social Functioning (<tspan font-style="italic">P</tspan> = .068)</text>
<line x1="6.4" y1="283.4" x2="21.6" y2="283.4" stroke="#45a7dc" stroke-width="1.1"/>
<path d="M14.00,281.51L15.89,283.40L14.00,285.29L12.11,283.40Z" fill="#45a7dc"/>
<text transform="translate(24.60,286.50) scale(0.8302,1)" font-size="9.20" text-anchor="start" fill="#404040">Cognitive Functioning (<tspan font-style="italic">P</tspan> = .48)</text>
<line x1="6.4" y1="295.4" x2="21.6" y2="295.4" stroke="#c4153f" stroke-width="1.1"/>
<path d="M11.27,293.35L16.73,293.35L14.00,297.99Z" fill="#c4153f"/>
<text transform="translate(24.60,298.50) scale(0.835,1)" font-size="9.20" text-anchor="start" fill="#404040">Emotional Functioning (<tspan font-style="italic">P</tspan> = .009)</text>
<line x1="141" y1="271.7" x2="155.7" y2="271.7" stroke="#3aa43a" stroke-width="1.1"/>
<path d="M145.62,273.75L151.08,273.75L148.35,269.11Z" fill="#3aa43a"/>
<text transform="translate(159.10,274.80) scale(0.8322,1)" font-size="9.20" text-anchor="start" fill="#404040">Role Functioning (<tspan font-style="italic">P</tspan> = .043)</text>
<line x1="141" y1="283.55" x2="155.7" y2="283.55" stroke="#4e2474" stroke-width="1.1" stroke-dasharray="3,2"/>
<circle cx="148.35" cy="283.55" r="2.10" fill="#fff" stroke="#4e2474" stroke-width="1.1"/>
<text transform="translate(159.10,286.65) scale(0.8391,1)" font-size="9.20" text-anchor="start" fill="#404040">Global Health (<tspan font-style="italic">P</tspan> = .007)</text>
<line x1="141" y1="295.4" x2="155.7" y2="295.4" stroke="#1d4e7e" stroke-width="1.1"/>
<rect x="145.94" y="292.98" width="4.83" height="4.83" fill="#1d4e7e"/>
<text transform="translate(159.10,298.50) scale(0.8217,1)" font-size="9.20" text-anchor="start" fill="#404040">Physical Functioning (<tspan font-style="italic">P</tspan> = .24)</text>
<line x1="300.2" y1="271.5" x2="314.3" y2="271.5" stroke="#7c7eb8" stroke-width="1.1"/>
<path d="M304.31,268.56L310.19,274.44M304.31,274.44L310.19,268.56" stroke="#7c7eb8" stroke-width="1.1" fill="none"/>
<text transform="translate(318.30,274.60) scale(0.8435,1)" font-size="9.20" text-anchor="start" fill="#404040">Fatigue (<tspan font-style="italic">P</tspan> = .014)</text>
<line x1="300.2" y1="283.4" x2="314.3" y2="283.4" stroke="#c4c4c4" stroke-width="1.1"/>
<circle cx="307.25" cy="283.40" r="1.78" fill="#c4c4c4"/>
<text transform="translate(318.30,286.50) scale(0.8332,1)" font-size="9.20" text-anchor="start" fill="#404040">Nausea/Vomiting (<tspan font-style="italic">P</tspan> = .019)</text>
<line x1="300.2" y1="295.3" x2="314.3" y2="295.3" stroke="#b9cf92" stroke-width="1.1"/>
<circle cx="307.25" cy="295.30" r="1.78" fill="#b9cf92"/>
<text transform="translate(318.30,298.40) scale(0.852,1)" font-size="9.20" text-anchor="start" fill="#404040">Pain (<tspan font-style="italic">P</tspan> = .001)</text>
<line x1="300.2" y1="307.2" x2="314.3" y2="307.2" stroke="#e0147c" stroke-width="1.1"/>
<path d="M304.52,305.15L309.98,305.15L307.25,309.79Z" fill="#e0147c"/>
<text transform="translate(318.30,310.30) scale(0.8299,1)" font-size="9.20" text-anchor="start" fill="#404040">Dyspnoea (<tspan font-style="italic">P</tspan> = .26)</text>
<line x1="417" y1="271.5" x2="431.2" y2="271.5" stroke="#f6c52a" stroke-width="1.1"/>
<path d="M424.10,269.19L426.41,273.12L421.79,273.12Z" fill="#f6c52a"/>
<text transform="translate(435.00,274.60) scale(0.8297,1)" font-size="9.20" text-anchor="start" fill="#404040">Insomnia (<tspan font-style="italic">P</tspan> = .039)</text>
<line x1="417" y1="283.4" x2="431.2" y2="283.4" stroke="#6b4a22" stroke-width="1.1"/>
<circle cx="424.10" cy="283.40" r="2.31" fill="#b8a070" stroke="#6b4a22" stroke-width="1"/>
<text transform="translate(435.00,286.50) scale(0.843,1)" font-size="9.20" text-anchor="start" fill="#404040">Appetite (<tspan font-style="italic">P</tspan> &lt; .001)</text>
<line x1="417" y1="295.3" x2="431.2" y2="295.3" stroke="#e0893f" stroke-width="1.1"/>
<rect x="421.48" y="292.68" width="5.25" height="5.25" fill="#fff" fill-opacity="0.5" stroke="#e0893f" stroke-width="1"/>
<text transform="translate(435.00,298.40) scale(0.8372,1)" font-size="9.20" text-anchor="start" fill="#404040">Constipation (<tspan font-style="italic">P</tspan> &lt; .001)</text>
<line x1="417" y1="307.2" x2="431.2" y2="307.2" stroke="#55657a" stroke-width="1.1"/>
<path d="M421.58,309.09L426.62,309.09L424.10,304.81Z" fill="#fff" fill-opacity="0.6" stroke="#55657a" stroke-width="0.9"/>
<text transform="translate(435.00,310.30) scale(0.83,1)" font-size="9.20" text-anchor="start" fill="#404040">Diarrhoea (<tspan font-style="italic">P</tspan> = .017)</text>
</svg></body></html>
